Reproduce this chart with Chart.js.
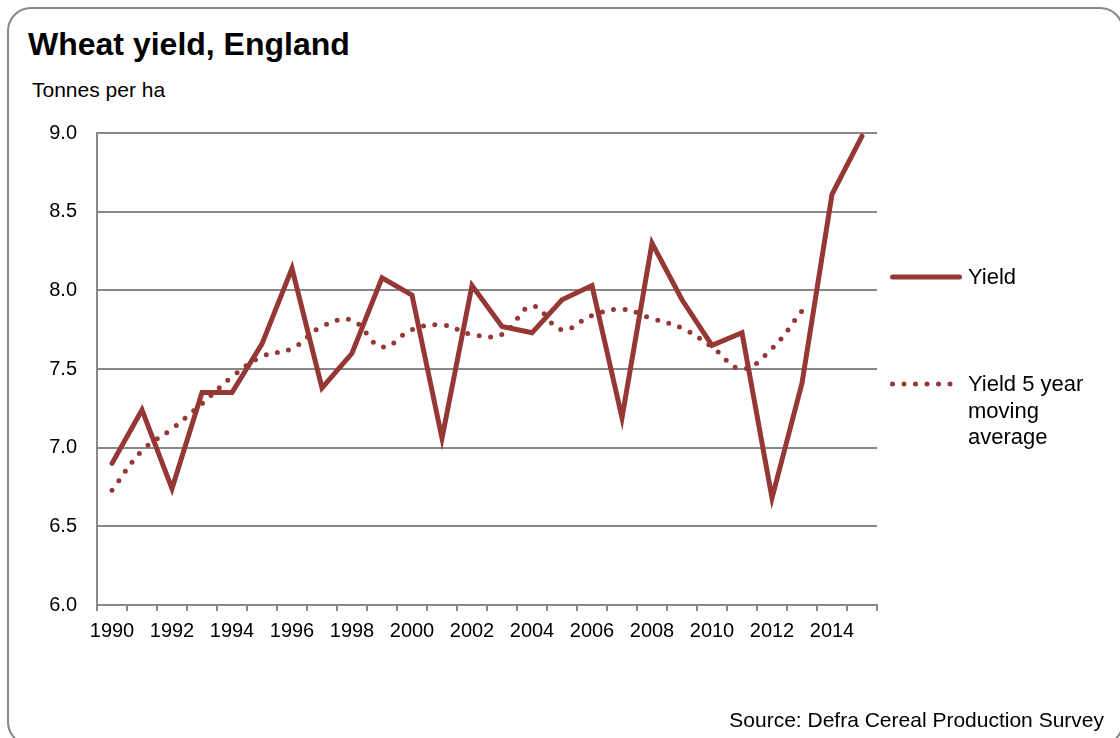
<!DOCTYPE html>
<html>
<head>
<meta charset="utf-8">
<title>Wheat yield, England</title>
<script src="https://cdn.jsdelivr.net/npm/chart.js@4.4.1/dist/chart.umd.min.js"></script>
<style>
  html, body { margin: 0; padding: 0; background: #fff; }
  body {
    width: 1120px; height: 738px; position: relative; overflow: hidden;
    font-family: "Liberation Sans", Arial, sans-serif; color: #000;
  }
  #frame {
    position: absolute; left: 7px; top: 7px; width: 1117px; height: 739px;
    border: 2px solid #878787; border-radius: 24px; box-sizing: border-box;
  }
  #title { position: absolute; left: 28px; top: 28px; font: bold 32px/32px "Liberation Sans", Arial, sans-serif; white-space: nowrap; }
  #units { position: absolute; left: 32px; top: 79px; font: 21px/21px "Liberation Sans", Arial, sans-serif; white-space: nowrap; }
  #source { position: absolute; right: 16px; top: 709px; font: 21px/21px "Liberation Sans", Arial, sans-serif; white-space: nowrap; }
  #yieldChart { position: absolute; left: 0; top: 0; }
  .legend-item { position: absolute; left: 886px; display: flex; align-items: flex-start; }
  .legend-item svg { flex: none; }
  .legend-item span { width: 140px; font: 22px/26.7px "Liberation Sans", Arial, sans-serif; }
</style>
</head>
<body>
<div id="frame"></div>
<div id="title">Wheat yield, England</div>
<div id="units">Tonnes per ha</div>
<canvas id="yieldChart" width="1120" height="738"></canvas>
<div id="legend"></div>
<div id="source">Source: Defra Cereal Production Survey</div>

<script>
// --- data ---
const years = ['1990', '1991', '1992', '1993', '1994', '1995', '1996', '1997', '1998', '1999',
  '2000', '2001', '2002', '2003', '2004', '2005', '2006', '2007', '2008', '2009',
  '2010', '2011', '2012', '2013', '2014', '2015'];
const labelledYears = ['1990', '1992', '1994', '1996', '1998', '2000', '2002',
  '2004', '2006', '2008', '2010', '2012', '2014'];
const yieldValues = [6.90, 7.24, 6.74, 7.35, 7.35, 7.66, 8.14, 7.38, 7.60, 8.08,
  7.97, 7.06, 8.03, 7.77, 7.73, 7.94, 8.03, 7.19, 8.30, 7.94,
  7.65, 7.73, 6.68, 7.41, 8.61, 8.98];
const movingAverage = [6.73, 6.98, 7.12, 7.28, 7.45, 7.58, 7.63, 7.77, 7.81, 7.64,
  7.75, 7.78, 7.72, 7.72, 7.90, 7.75, 7.84, 7.88, 7.82, 7.76,
  7.64, 7.50, 7.63, 7.87, null, null];
const yMin = 6.0;
const yMax = 9.0;
const yStep = 0.5;

// --- styles ---
const RED = '#953735';
const GREY = '#888888';
const TICK_FONT = { family: '"Liberation Sans", Arial, sans-serif', size: 20 };

const ctx = document.getElementById('yieldChart').getContext('2d');

const yieldChart = new Chart(ctx, {
  type: 'line',
  data: {
    labels: years,
    datasets: [{
      label: 'Yield',
      data: yieldValues,
      borderColor: RED,
      borderWidth: 5,
      borderJoinStyle: 'miter',
      borderCapStyle: 'round',
      tension: 0,
      pointRadius: 0,
      fill: false
    }, {
      label: 'Yield 5 year moving average',
      data: movingAverage,
      borderColor: RED,
      borderWidth: 5,
      borderDash: [0, 11.5],
      borderCapStyle: 'round',
      tension: 0.4,
      pointRadius: 0,
      spanGaps: false,
      fill: false
    }]
  },
  options: {
    responsive: false,
    animation: false,
    devicePixelRatio: 1,
    layout: { padding: { left: 0, top: 133, right: 243, bottom: 0 } },
    plugins: {
      legend: { display: false },
      title: { display: false },
      tooltip: { enabled: false }
    },
    scales: {
      x: {
        type: 'category',
        offset: true,
        afterFit: s => { s.height = 133; },
        grid: {
          display: true,
          drawOnChartArea: false,
          drawTicks: true,
          offset: true,
          tickLength: 6,
          color: GREY,
          lineWidth: 2
        },
        border: { display: true, color: GREY, width: 2 },
        ticks: {
          autoSkip: false,
          maxRotation: 0,
          padding: 8,
          color: '#000',
          font: TICK_FONT,
          // only every other year gets a label, the tick marks stay
          callback: (value, i) => labelledYears.includes(years[i]) ? years[i] : ''
        }
      },
      y: {
        min: yMin,
        max: yMax,
        afterFit: s => { s.width = 97; },
        grid: { color: GREY, lineWidth: 2, drawTicks: false },
        border: { display: true, color: GREY, width: 2 },
        ticks: {
          stepSize: yStep,
          padding: 20,
          color: '#000',
          font: TICK_FONT,
          callback: v => Number(v).toFixed(1)
        }
      }
    }
  }
});

// --- legend (built from the datasets) ---
const legendEl = document.getElementById('legend');
const legendTops = [264, 371];
yieldChart.data.datasets.forEach((ds, i) => {
  const item = document.createElement('div');
  item.className = 'legend-item';
  item.style.top = legendTops[i] + 'px';
  const dash = ds.borderDash ? ds.borderDash.join(' ') : 'none';
  item.innerHTML =
    '<svg width="82" height="27"><line x1="6.5" y1="13" x2="73.5" y2="13" stroke="' + ds.borderColor +
    '" stroke-width="' + ds.borderWidth + '" stroke-linecap="round" stroke-dasharray="' + dash + '"/></svg>';
  const text = document.createElement('span');
  text.textContent = ds.label;
  item.appendChild(text);
  legendEl.appendChild(item);
});
</script>
</body>
</html>
